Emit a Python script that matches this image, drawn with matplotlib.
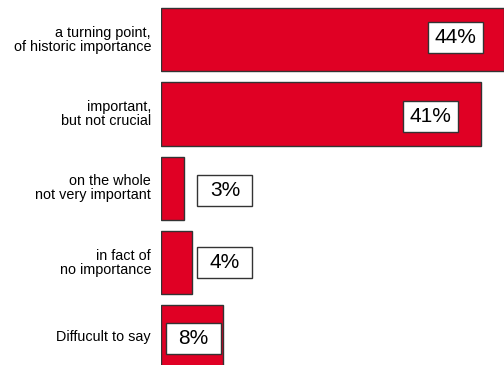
import matplotlib
matplotlib.use("Agg")
import matplotlib.pyplot as plt
from matplotlib.patches import Rectangle

categories = ["a turning point,\nof historic importance",
              "important,\nbut not crucial",
              "on the whole\nnot very important",
              "in fact of\nno importance",
              "Diffucult to say"]
values = [44, 41, 3, 4, 8]
labels = ["44%", "41%", "3%", "4%", "8%"]
# label box centre offsets from bar end / bar centre (pixels)
label_offsets = [-48.5, -49.7, 40.6, 32.8, -30.1]
label_voffsets = [-1.9, 2.3, 1.9, -0.4, 1.7]

W, H = 504, 365
x0 = 161
px_per_x = (W - x0) / 44.0
px_per_y = 74.35
box_w, box_h = 55, 31

plt.rcParams['font.family'] = ['Liberation Sans', 'DejaVu Sans']
fig = plt.figure(figsize=(W / 100, H / 100), dpi=100)
ax = fig.add_axes([x0 / W, 0, 1 - x0 / W, 1])
ypos = list(range(len(values)))
ax.barh(ypos, values, height=0.85, color="#E00024", edgecolor="#333333", linewidth=1.0)
ax.set_xlim(0, 44)
ax.set_ylim(4.377, -0.533)
ax.axis("off")

for y, v, lab, dx, dy in zip(ypos, values, labels, label_offsets, label_voffsets):
    cx = v + dx / px_per_x
    cy = y + dy / px_per_y
    bw = box_w / px_per_x
    bh = box_h / px_per_y
    ax.add_patch(Rectangle((cx - bw / 2, cy - bh / 2), bw, bh, facecolor="white",
                           edgecolor="#333333", linewidth=1.0, zorder=3, clip_on=False))
    ax.text(cx, cy, lab, ha="center", va="center", fontsize=15, zorder=4)

for y, c in zip(ypos, categories):
    ax.annotate(c, xy=(0, y), xytext=(-10 * 0.72, 0), textcoords="offset points",
                ha="right", va="center", fontsize=10.4, linespacing=1.02,
                annotation_clip=False)

fig.savefig("out.png", dpi=100)
